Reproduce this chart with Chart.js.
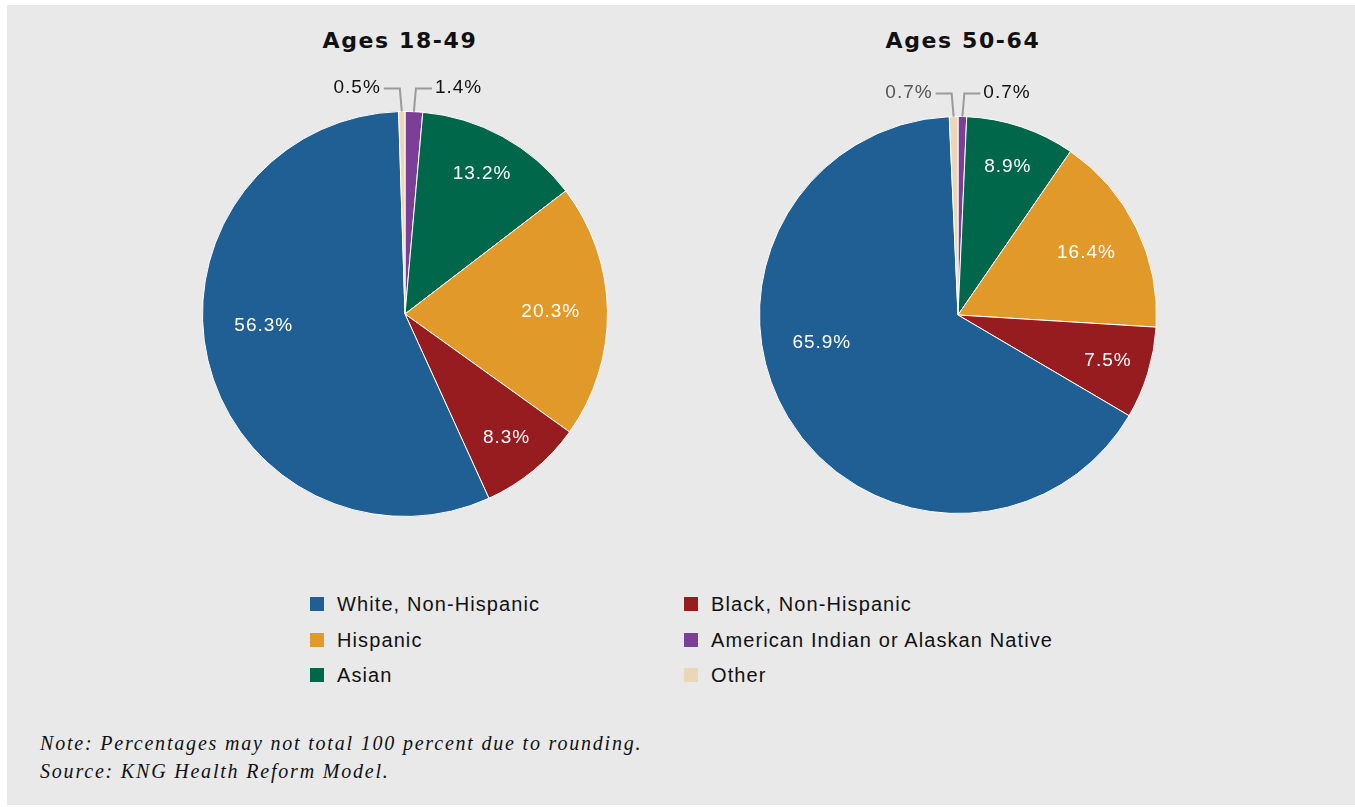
<!DOCTYPE html>
<html>
<head>
<meta charset="utf-8">
<script src="https://cdn.jsdelivr.net/npm/chart.js@4.4.0/dist/chart.umd.min.js"></script>
<style>
  body { margin: 0; background: #fff; width: 1355px; height: 807px; overflow: hidden; position: relative; font-family: "Liberation Sans", Arial, sans-serif; }
  #panel { position: absolute; left: 7px; top: 5px; width: 1348px; height: 800px; background: #e9e9e9; }
  .titulo { position: absolute; top: 28px; width: 400px; text-align: center; font: bold 22px "DejaVu Sans", sans-serif; letter-spacing: 1.6px; color: #111; }
  canvas { position: absolute; }
  .leg { position: absolute; font-size: 20px; color: #111; letter-spacing: 1.1px; white-space: nowrap; }
  .leg span { position: absolute; width: 14px; height: 14px; left: -27px; top: 4px; }
  .nota { position: absolute; left: 40px; font: italic 20px "Liberation Serif", serif; color: #111; letter-spacing: 1.8px; }
</style>
</head>
<body>
<div id="panel"></div>
<div class="titulo" style="left:200px">Ages 18-49</div>
<div class="titulo" style="left:763px">Ages 50-64</div>
<canvas id="pie1" width="520" height="520" style="left:145px; top:54px; width:520px; height:520px"></canvas>
<canvas id="pie2" width="520" height="520" style="left:698px; top:55px; width:520px; height:520px"></canvas>
<div id="legenda"></div>
<div class="nota" style="top:732px">Note: Percentages may not total 100 percent due to rounding.</div>
<div class="nota" style="top:760px">Source: KNG Health Reform Model.</div>
<script>
// Categorias na ordem em que as fatias são desenhadas (sentido horário a partir do topo)
const categorias = ['American Indian or Alaskan Native', 'Asian', 'Hispanic', 'Black, Non-Hispanic', 'White, Non-Hispanic', 'Other'];
const valores1849 = [1.4, 13.2, 20.3, 8.3, 56.3, 0.5];
const valores5064 = [0.7, 8.9, 16.4, 7.5, 65.9, 0.7];
const cores = ['#7b3f98', '#00674b', '#e19a29', '#961c20', '#1f5f93', '#ecd6b8'];

// Ordem da legenda (duas colunas)
const legendaOrdem = ['White, Non-Hispanic', 'Hispanic', 'Asian', 'Black, Non-Hispanic', 'American Indian or Alaskan Native', 'Other'];

// Legenda partilhada
const legendaDiv = document.getElementById('legenda');
legendaOrdem.forEach((nome, i) => {
    const col = Math.floor(i / 3);
    const lin = i % 3;
    const el = document.createElement('div');
    el.className = 'leg';
    el.style.left = (col === 0 ? 337 : 711) + 'px';
    el.style.top = [593, 629, 664][lin] + 'px';
    const sq = document.createElement('span');
    sq.style.background = cores[categorias.indexOf(nome)];
    el.appendChild(sq);
    el.appendChild(document.createTextNode(nome));
    legendaDiv.appendChild(el);
});

// Plugin para escrever as percentagens (dentro ou fora com linha-guia)
const rotulosPlugin = {
    id: 'rotulos',
    afterDatasetsDraw(chart, args, opts) {
        const ctx = chart.ctx;
        const meta = chart.getDatasetMeta(0);
        const dados = chart.data.datasets[0].data;
        ctx.save();
        ctx.font = '19px "Liberation Sans", Arial, sans-serif';
        ctx.letterSpacing = '1px';
        ctx.textBaseline = 'middle';
        meta.data.forEach((arc, i) => {
            const p = arc.getProps(['x', 'y', 'startAngle', 'endAngle', 'outerRadius'], true);
            let meio = (p.startAngle + p.endAngle) / 2;
            const texto = dados[i].toFixed(1) + '%';
            if (dados[i] >= 5) {
                let r = p.outerRadius * (dados[i] < 15 ? 0.79 : 0.72);
                if (dados[i] > 50) {
                    // fatia grande: rótulo puxado para a horizontal
                    meio = Math.PI - 0.37 * (Math.PI - meio);
                    r = p.outerRadius * 0.7;
                }
                ctx.fillStyle = '#ffffff';
                ctx.textAlign = 'center';
                ctx.fillText(texto, p.x + Math.cos(meio) * r, p.y + Math.sin(meio) * r);
            } else {
                const dir = Math.cos(meio) >= 0 ? 1 : -1;
                const x0 = p.x + Math.cos(meio) * p.outerRadius;
                const y0 = p.y + Math.sin(meio) * p.outerRadius;
                const yc = p.y - p.outerRadius - 23;
                const xc = x0 + dir * 2;
                const xf = xc + dir * 16;
                ctx.strokeStyle = '#9a9a9a';
                ctx.lineWidth = 2;
                ctx.beginPath();
                ctx.moveTo(x0, y0);
                ctx.lineTo(xc, yc);
                ctx.lineTo(xf, yc);
                ctx.stroke();
                ctx.fillStyle = (opts.coresFora && opts.coresFora[i]) || '#111';
                ctx.textAlign = dir > 0 ? 'left' : 'right';
                ctx.fillText(texto, xf + dir * 3, yc - 1);
            }
        });
        ctx.restore();
    }
};

function criarPizza(id, valores, padding, coresFora) {
    return new Chart(document.getElementById(id).getContext('2d'), {
        type: 'pie',
        data: {
            labels: categorias,
            datasets: [{
                data: valores,
                backgroundColor: cores,
                borderColor: '#ffffff',
                borderWidth: 1
            }]
        },
        options: {
            responsive: false,
            animation: false,
            layout: { padding: padding },
            plugins: {
                legend: { display: false },
                tooltip: { enabled: false },
                rotulos: { coresFora: coresFora }
            }
        },
        plugins: [rotulosPlugin]
    });
}

criarPizza('pie1', valores1849, 57, null);
criarPizza('pie2', valores5064, 61, { 5: '#555555' });
</script>
</body>
</html>
